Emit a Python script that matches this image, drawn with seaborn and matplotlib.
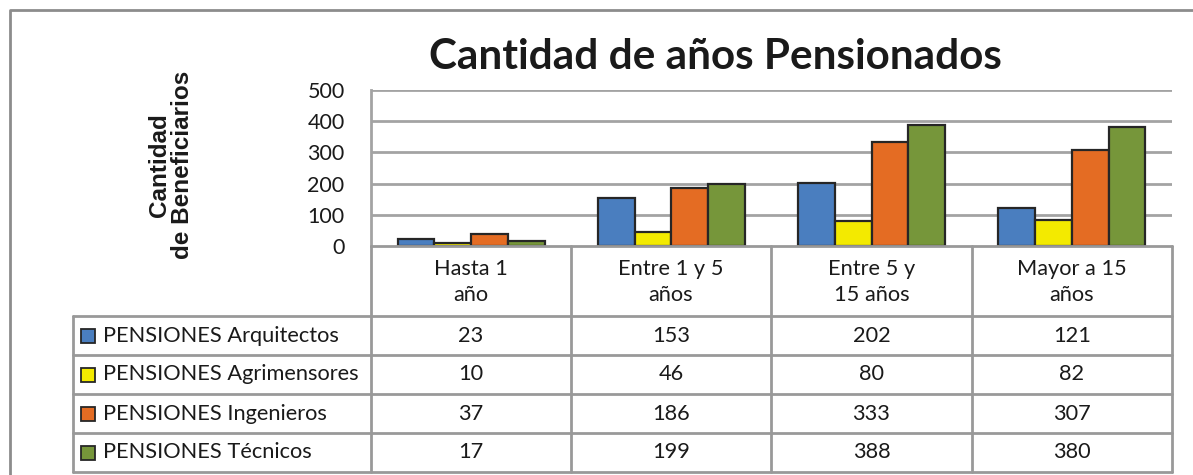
import matplotlib
matplotlib.use("Agg")
import matplotlib.pyplot as plt
import seaborn as sns
import pandas as pd

# Data
periodos = ["Hasta 1\naño", "Entre 1 y 5\naños", "Entre 5 y\n15 años", "Mayor a 15\naños"]
series = ["PENSIONES Arquitectos", "PENSIONES Agrimensores",
          "PENSIONES Ingenieros", "PENSIONES Técnicos"]
arquitectos = [23, 153, 202, 121]
agrimensores = [10, 46, 80, 82]
ingenieros = [37, 186, 333, 307]
tecnicos = [17, 199, 388, 380]
colores = ["#4A7EBF", "#F3EA00", "#E46C23", "#76963A"]
titulo = "Cantidad de años Pensionados"
etiqueta_y = "Cantidad\nde Beneficiarios"
yticks = [0, 100, 200, 300, 400, 500]

valores = [arquitectos, agrimensores, ingenieros, tecnicos]
df = pd.DataFrame(
    [(p, s, v) for s, vals in zip(series, valores) for p, v in zip(periodos, vals)],
    columns=["periodo", "serie", "valor"],
)

sns.set_theme(style="white")
plt.rcParams["font.family"] = ["Lato", "DejaVu Sans"]

W, H = 1193, 475
fig = plt.figure(figsize=(W / 100, H / 100), dpi=100)

# pixel helpers
def fx(x):
    return x / W

def fy(y):
    return 1 - y / H

grid_c = "#A3A3A3"
line_c = "#999999"
text_c = "#1A1A1A"
fs_tab = 15.7

# plot area
x0, x1, ytop, ybot = 371, 1172, 90, 246
ax = fig.add_axes([fx(x0), fy(ybot), fx(x1 - x0), (ybot - ytop) / H])
sns.barplot(data=df, x="periodo", y="valor", hue="serie", palette=colores,
            width=0.735, edgecolor="#262626", linewidth=1.6, saturation=1,
            legend=False, ax=ax, zorder=3)
ax.set_xlim(-0.5, 3.5)
ax.set_ylim(0, 500)
ax.set_yticks(yticks)
ax.set_yticklabels([str(t) for t in yticks], fontsize=15.5, color=text_c)
ax.tick_params(axis="y", length=0, pad=19)
ax.set_xticks([])
ax.set_xlabel("")
ax.set_ylabel("")
for t in yticks[1:]:
    ax.axhline(t, color=grid_c, lw=2, zorder=1)
for s in ["top", "right", "bottom"]:
    ax.spines[s].set_visible(False)
ax.spines["left"].set_color(grid_c)
ax.spines["left"].set_linewidth(2)

# overlay in pixel coordinates for frame, title and data table
ov = fig.add_axes([0, 0, 1, 1], facecolor="none")
ov.set_xlim(0, W)
ov.set_ylim(H, 0)
ov.axis("off")

# outer frame
ov.plot([10, 10, W + 5], [H + 5, 10, 10], color="#8C8C8C", lw=2, solid_capstyle="butt")

# title and axis label
ov.text(715, 57, titulo, ha="center", va="center", fontsize=30.4,
        fontweight="bold", color=text_c)
ov.text(171, 165, etiqueta_y, ha="center", va="center", rotation=90,
        fontsize=17.5, fontweight="bold", color=text_c,
        family=["Liberation Sans", "DejaVu Sans"], linespacing=1.0)

# table grid
cols = [371, 571, 771, 972, 1172]
rows = [246, 316, 355, 394, 433, 472]
tx0 = 73
for c in cols:
    ov.plot([c, c], [rows[0], rows[-1]], color=line_c, lw=2, zorder=2)
ov.plot([tx0, tx0], [rows[1], rows[-1]], color=line_c, lw=2, zorder=2)
ov.plot([cols[0], cols[-1]], [rows[0], rows[0]], color=line_c, lw=2, zorder=2)
for r in rows[1:]:
    ov.plot([tx0, cols[-1]], [r, r], color=line_c, lw=2, zorder=2)

# column headers
for i, p in enumerate(periodos):
    cx = (cols[i] + cols[i + 1]) / 2
    ov.text(cx, (rows[0] + rows[1]) / 2 + 1, p, ha="center", va="center",
            fontsize=fs_tab, color=text_c, linespacing=1.35)

# rows: legend key, series name, values
for j, (s, vals, col) in enumerate(zip(series, valores, colores)):
    cy = (rows[j + 1] + rows[j + 2]) / 2
    ov.add_patch(plt.Rectangle((81, cy - 7), 14, 14, facecolor=col,
                               edgecolor="#262626", lw=1.3, zorder=3))
    ov.text(103, cy, s, ha="left", va="center", fontsize=fs_tab, color=text_c)
    for i, v in enumerate(vals):
        cx = (cols[i] + cols[i + 1]) / 2
        ov.text(cx, cy, str(v), ha="center", va="center", fontsize=fs_tab, color=text_c)

fig.savefig("out.png", dpi=100, facecolor="white")
